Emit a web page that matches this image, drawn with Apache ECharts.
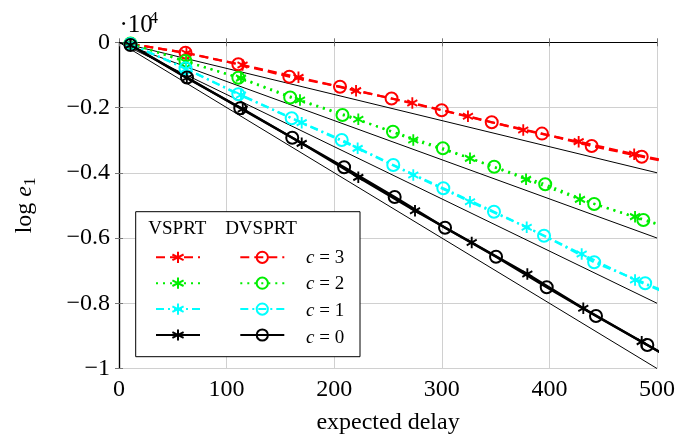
<!DOCTYPE html>
<html>
<head>
<meta charset="utf-8">
<script src="https://cdn.jsdelivr.net/npm/echarts@6/dist/echarts.min.js"></script>
<style>
  html, body { margin: 0; padding: 0; background: #fff; }
  #main { width: 689px; height: 441px; }
</style>
</head>
<body>
<div id="main"></div>
<script>
// expected delay (x) and log e1 (y), per series
// VSPRT = stars, DVSPRT = circles; last point sits past x=500 and is clipped
var vX3 = [10.7, 62.7, 114.8, 166.8, 220.3, 272.6, 324.3, 375.7, 427.2, 478.8, 530];
var vY3 = [-45, -328, -696, -1073, -1484, -1861, -2268, -2689, -3047, -3430, -3790];
var dvX3 = [10.7, 61.8, 110.9, 158.3, 205.4, 253.3, 299.9, 346.4, 393.1, 439.3, 485.8, 532];
var dvY3 = [-52, -322, -674, -1055, -1361, -1723, -2085, -2453, -2799, -3179, -3507, -3830];

var vX2 = [10.7, 62.3, 113.4, 168.2, 222.4, 273.5, 326.2, 378.3, 428.4, 479.6, 531];
var vY2 = [-37, -604, -1097, -1769, -2360, -2995, -3556, -4200, -4813, -5346, -5880];
var dvX2 = [10.7, 61.8, 110.9, 159.1, 207.7, 254.6, 301, 348.7, 396.1, 441.6, 487.3, 533];
var dvY2 = [-37, -573, -1085, -1692, -2229, -2741, -3250, -3814, -4353, -4957, -5448, -5930];

var vX1 = [10.7, 62.3, 113.4, 169.8, 221.8, 273.5, 326.2, 378.9, 430, 479.6, 531];
var vY1 = [-52, -819, -1616, -2465, -3250, -4068, -4887, -5671, -6490, -7287, -8000];
var dvX1 = [10.7, 61.8, 110.9, 160.5, 207, 254.9, 301.4, 348.5, 395, 441.6, 489, 535];
var dvY1 = [-52, -797, -1594, -2330, -2995, -3761, -4476, -5193, -5929, -6744, -7388, -8010];

var vX0 = [10.7, 63, 115, 169.8, 222.4, 275.1, 327.8, 379.5, 431.5, 485.8, 537];
var vY0 = [-83, -1094, -2045, -3096, -4139, -5163, -6137, -7103, -8154, -9178, -10150];
var dvX0 = [10.7, 63.2, 112.7, 161, 209.2, 256.2, 303, 350.4, 397.5, 443.3, 491, 540];
var dvY0 = [-83, -1079, -2023, -2928, -3832, -4742, -5684, -6573, -7511, -8391, -9280, -10200];

// thin straight guide lines from the origin to x = 500
var refX = [0, 500];
var refEndY = [-4000, -6000, -8000, -10000];

var cValues = [3, 2, 1, 0];
var colors = ['#ff0000', '#00ee00', '#00ffff', '#000000'];
var dashes = [[9, 5], [2, 5], [8, 4, 2, 4], 'solid'];

var FONT = 'Liberation Serif';
var STAR = 'path://M0,-10L0,10M-8.66,-5L8.66,5M-8.66,5L8.66,-5';

function pairs(xs, ys) {
    var out = [];
    for (var i = 0; i < xs.length; i++) out.push([xs[i], ys[i]]);
    return out;
}

var vData = [pairs(vX3, vY3), pairs(vX2, vY2), pairs(vX1, vY1), pairs(vX0, vY0)];
var dvData = [pairs(dvX3, dvY3), pairs(dvX2, dvY2), pairs(dvX1, dvY1), pairs(dvX0, dvY0)];

var series = [];
refEndY.forEach(function (y, i) {
    series.push({
        name: 'ref' + i,
        type: 'line',
        data: [[refX[0], 0], [refX[1], y]],
        symbol: 'none',
        silent: true,
        lineStyle: { color: '#000', width: 1 },
        z: 2
    });
});

var vNames = [], dvNames = [];
cValues.forEach(function (c, i) {
    var vName = 'VSPRT c=' + c, dvName = 'DVSPRT c=' + c;
    vNames.push(vName);
    dvNames.push(dvName);
    var lw = c === 0 ? 2.4 : 2.2;
    series.push({
        name: dvName,
        type: 'line',
        data: dvData[i],
        symbol: 'circle',
        symbolSize: 12,
        silent: true,
        lineStyle: { color: colors[i], width: lw, type: dashes[i] },
        itemStyle: { color: 'rgba(0,0,0,0)', borderColor: colors[i], borderWidth: 2 },
        z: 3
    });
    series.push({
        name: vName,
        type: 'line',
        data: vData[i],
        symbol: STAR,
        symbolSize: [10, 11.5],
        silent: true,
        lineStyle: { color: colors[i], width: lw, type: dashes[i] },
        itemStyle: { color: colors[i], borderColor: colors[i], borderWidth: 2 },
        z: 3
    });
});

var axisFont = { fontFamily: FONT, fontSize: 24, color: '#000' };

// legend row centres, and the "c = .." labels beside them
var rowY = [257.7, 284.3, 311, 337.7];
var legendText = [];
cValues.forEach(function (c, i) {
    legendText.push({
        type: 'text', z: 6,
        style: {
            x: 306, y: rowY[i], text: '{i|c} = ' + c,
            font: '19px ' + FONT, fill: '#000', textVerticalAlign: 'middle',
            rich: { i: { fontFamily: FONT, fontSize: 19, fontStyle: 'italic', fill: '#000' } }
        }
    });
});

var legendBase = {
    orient: 'vertical', top: rowY[0] - 7, padding: 0,
    itemWidth: 44, itemHeight: 14, itemGap: 12.7,
    selectedMode: false, formatter: function () { return ''; },
    textStyle: { lineHeight: 14 }, z: 5
};

var option = {
    animation: false,
    backgroundColor: '#fff',
    grid: { left: 119, right: 32, top: 42.3, bottom: 72.5, outerBoundsMode: 'none' },
    xAxis: [{
        type: 'value', min: 0, max: 500, interval: 100, position: 'bottom',
        axisLine: { lineStyle: { color: '#000', width: 1.2 } },
        axisTick: { inside: true, length: 4, lineStyle: { color: '#777' } },
        splitLine: { lineStyle: { color: '#d0d0d0', width: 1 } },
        axisLabel: Object.assign({ margin: 9 }, axisFont),
        name: 'expected delay', nameLocation: 'middle', nameGap: 42,
        nameTextStyle: axisFont
    }, {
        type: 'value', min: 0, max: 500, interval: 100, position: 'top',
        axisLine: { lineStyle: { color: '#000', width: 1.2 } },
        axisTick: { inside: true, length: 4, lineStyle: { color: '#777' } },
        axisLabel: { show: false }, splitLine: { show: false }
    }],
    yAxis: [{
        type: 'value', min: -10000, max: 0, interval: 2000, position: 'left',
        axisLine: { lineStyle: { color: '#000', width: 1.2 } },
        axisTick: { inside: true, length: 4, lineStyle: { color: '#777' } },
        splitLine: { lineStyle: { color: '#d0d0d0', width: 1 } },
        axisLabel: Object.assign({
            margin: 9,
            formatter: function (v) {
                if (v === 0) return '0';
                if (v === -10000) return '\u22121';
                return '\u2212' + (Math.abs(v) / 10000).toFixed(1);
            }
        }, axisFont),
        name: 'log {i|e}{s|1}', nameLocation: 'middle', nameGap: 80,
        nameTextStyle: {
            fontFamily: FONT, fontSize: 24, color: '#000',
            rich: {
                i: { fontFamily: FONT, fontSize: 24, fontStyle: 'italic', color: '#000' },
                s: { fontFamily: FONT, fontSize: 17, color: '#000', padding: [12, 0, 0, 0] }
            }
        }
    }, {
        type: 'value', min: -10000, max: 0, interval: 2000, position: 'right',
        axisLine: { lineStyle: { color: '#000', width: 1.2 } },
        axisTick: { inside: true, length: 4, lineStyle: { color: '#777' } },
        axisLabel: { show: false }, splitLine: { show: false }
    }],
    legend: [
        Object.assign({ data: vNames, left: 155 }, legendBase),
        Object.assign({ data: dvNames, left: 239.3 }, legendBase)
    ],
    graphic: [
        { type: 'rect', z: 3, shape: { x: 135.7, y: 211.7, width: 224.3, height: 145 },
          style: { fill: '#fff', stroke: '#000', lineWidth: 1 } },
        { type: 'text', z: 5, style: { x: 177.3, y: 229.3, text: 'VSPRT', font: '19px ' + FONT, fill: '#000', textAlign: 'center', textVerticalAlign: 'middle' } },
        { type: 'text', z: 5, style: { x: 261, y: 229.3, text: 'DVSPRT', font: '19px ' + FONT, fill: '#000', textAlign: 'center', textVerticalAlign: 'middle' } },
        { type: 'text', z: 5, style: { x: 119.5, y: 25.5, text: '\u00b710', font: '25px ' + FONT, fill: '#000', textAlign: 'left', textVerticalAlign: 'middle' } },
        { type: 'text', z: 5, style: { x: 149.5, y: 18.6, text: '4', font: '17px ' + FONT, fill: '#000', textAlign: 'left', textVerticalAlign: 'middle' } }
    ].concat(legendText),
    series: series
};

var myChart = echarts.init(document.getElementById('main'), null, { renderer: 'canvas' });
myChart.setOption(option);
</script>
</body>
</html>
